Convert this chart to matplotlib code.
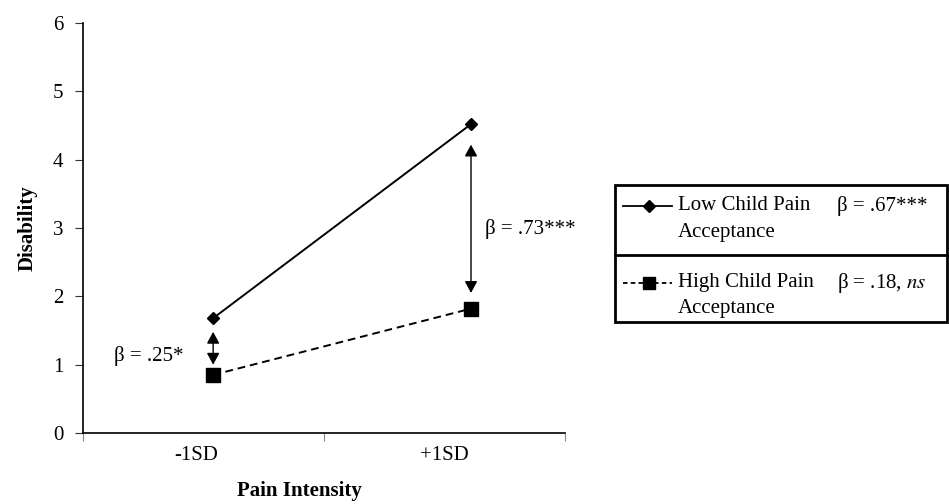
import matplotlib
matplotlib.use("Agg")
import matplotlib.pyplot as plt
from matplotlib.patches import Rectangle

plt.rcParams['font.family'] = ['Liberation Serif', 'DejaVu Serif']
plt.rcParams['mathtext.fontset'] = 'stix'

# Data
categories = ["-1SD", "+1SD"]
cat_label_pos = [0.47, 1.5]
cat_point_pos = [0.54, 1.61]
low_acceptance = [1.68, 4.52]
high_acceptance = [0.85, 1.82]
series_names = ["Low Child Pain\nAcceptance", "High Child Pain\nAcceptance"]
series_betas = ["β = .67***", r"β = .18, $\it{ns}$"]
diff_labels = ["β = .25*", "β = .73***"]
diff_arrows = [(1.48, 1.00), (4.22, 2.05)]
y_ticks = [0, 1, 2, 3, 4, 5, 6]

W, H = 949, 504
fig = plt.figure(figsize=(W / 100, H / 100), dpi=100)

def px_axes(x0, y0, x1, y1):
    return fig.add_axes([x0 / W, 1 - y1 / H, (x1 - x0) / W, (y1 - y0) / H])

ax = px_axes(83, 23, 565, 433)
ax.set_xlim(0, 2)
ax.set_ylim(0, 6)
for s in ["top", "right"]:
    ax.spines[s].set_visible(False)
for s in ["left", "bottom"]:
    ax.spines[s].set_linewidth(1.2)
ax.set_yticks(y_ticks)
ax.set_yticklabels([str(v) for v in y_ticks], fontsize=15)
ax.set_xticks([0, 1, 2])
ax.set_xticklabels([])
ax.tick_params(axis="y", direction="out", length=6, width=0.8, pad=8, colors="#333333", labelcolor="black")
ax.tick_params(axis="x", direction="out", length=6, width=0.8, colors="#888888")
for p, c in zip(cat_label_pos, categories):
    ax.text(p, -0.33, c, ha="center", va="center", fontsize=15)
ax.text(0.9, -0.85, "Pain Intensity", ha="center", va="center", fontsize=15, fontweight="bold")
ax.set_ylabel("Disability", fontsize=15, fontweight="bold", labelpad=11)

ax.plot(cat_point_pos, low_acceptance, "-", color="black", lw=1.4,
        marker="D", markersize=6.5, markerfacecolor="black", clip_on=False)
ax.plot(cat_point_pos, high_acceptance, color="black", lw=1.4, linestyle=(0, (4, 2.5)),
        marker="s", markersize=9.5, markerfacecolor="black", clip_on=False)

for xp, (ya, yb) in zip(cat_point_pos, diff_arrows):
    ax.annotate("", xy=(xp, yb), xytext=(xp, ya),
                arrowprops=dict(arrowstyle="<|-|>,head_length=0.7,head_width=0.38",
                                color="black", lw=1.0, shrinkA=0, shrinkB=0))

ax.text(0.13, 1.12, diff_labels[0], ha="left", va="center", fontsize=15)
ax.text(1.67, 2.98, diff_labels[1], ha="left", va="center", fontsize=15)

# Legend box
lg = px_axes(615, 185, 947, 322)
lg.set_xlim(0, 332)
lg.set_ylim(137, 0)
lg.axis("off")
lg.add_patch(Rectangle((0, 0), 332, 137, fill=False, lw=2.0, edgecolor="black", clip_on=False))
lg.plot([0, 332], [70, 70], color="black", lw=2.0, clip_on=False)
styles = [dict(linestyle="-", marker="D", markersize=6), dict(linestyle=(0, (2.5, 1.8)), marker="s", markersize=8)]
row_y = [21, 98]
for ry, st, name, beta in zip(row_y, styles, series_names, series_betas):
    lg.plot([8, 34, 57], [ry, ry, ry], color="black", lw=1.3, markevery=[1],
            markerfacecolor="black", **st)
    for k, line in enumerate(name.split("\n")):
        lg.text(63, ry + 26 * k, line, ha="left", va="center", fontsize=15)
    lg.text(222, ry, beta, ha="left", va="center", fontsize=15)

fig.savefig("out.png", dpi=100)
